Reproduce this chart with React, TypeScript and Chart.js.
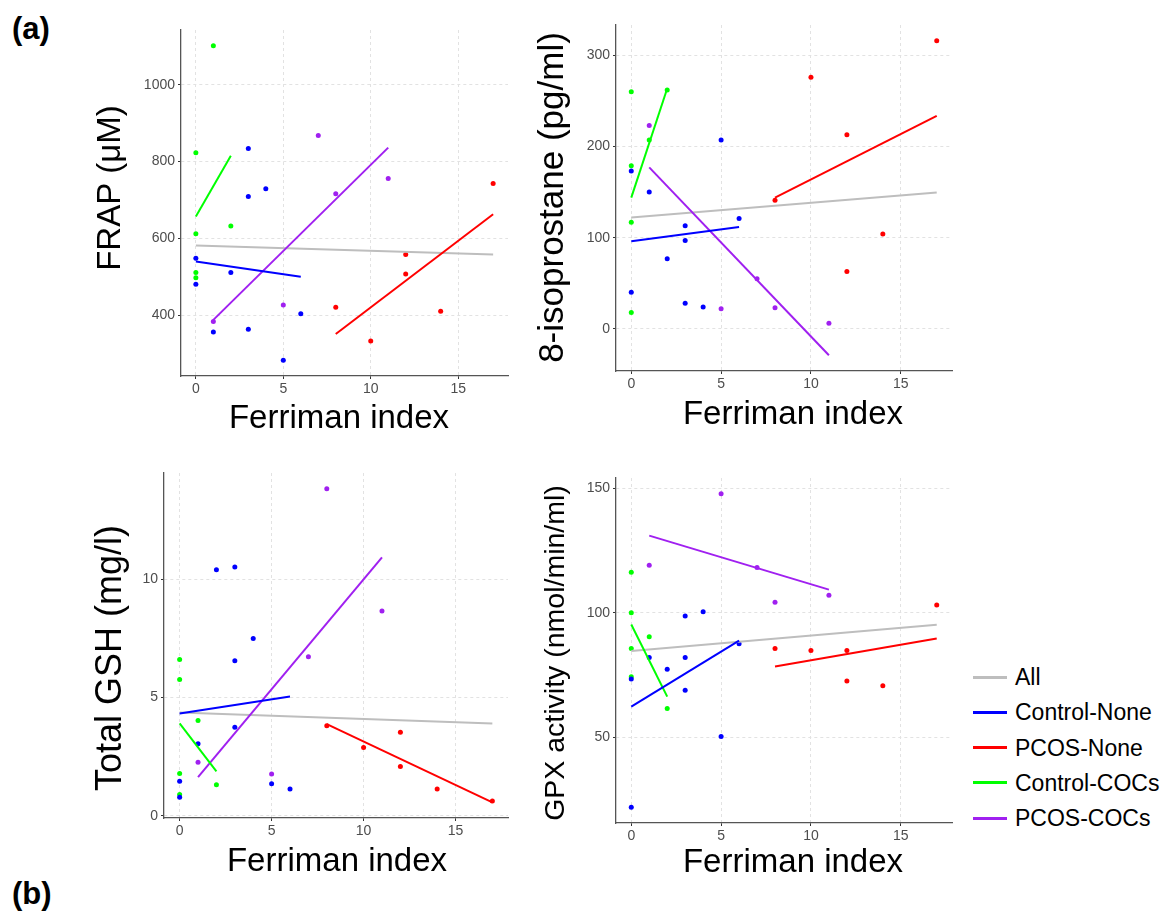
import React, { useEffect, useRef } from 'react';
import { Chart, registerables } from 'chart.js';

Chart.register(...registerables);

// ---------- data ----------
const X_TICKS = [0, 5, 10, 15];
const FRAP_TICKS = [400, 600, 800, 1000];
const ISO_TICKS = [0, 100, 200, 300];
const GSH_TICKS = [0, 5, 10];
const GPX_TICKS = [50, 100, 150];

const GROUP_NAMES = ['Control-None', 'PCOS-None', 'Control-COCs', 'PCOS-COCs'];
const GROUP_COLORS = ['#0000FF', '#FF0000', '#00FF00', '#A020F0'];
const ALL_NAME = 'All';
const ALL_COLOR = '#BEBEBE';
const LEGEND_NAMES = [ALL_NAME, ...GROUP_NAMES];
const LEGEND_COLORS = [ALL_COLOR, ...GROUP_COLORS];

// [Ferriman index, value]
const FRAP_CONTROL_NONE = [[0, 548], [0, 480], [1, 356], [2, 511], [3, 834], [3, 709], [3, 363], [4, 729], [5, 282], [6, 403]];
const FRAP_PCOS_NONE = [[8, 420], [10, 332], [12, 558], [12, 507], [14, 410], [17, 743]];
const FRAP_CONTROL_COCS = [[0, 823], [0, 612], [0, 511], [0, 497], [1, 1102], [2, 632]];
const FRAP_PCOS_COCS = [[1, 383], [5, 426], [7, 868], [8, 716], [11, 756]];

const ISO_CONTROL_NONE = [[0, 173], [0, 40], [1, 150], [2, 77], [3, 113], [3, 97], [3, 28], [4, 24], [5, 207], [6, 121]];
const ISO_PCOS_NONE = [[8, 141], [10, 276], [12, 213], [12, 63], [14, 104], [17, 316]];
const ISO_CONTROL_COCS = [[0, 260], [0, 179], [0, 117], [0, 18], [1, 207], [2, 262]];
const ISO_PCOS_COCS = [[1, 223], [5, 22], [7, 55], [8, 23], [11, 6]];

const GSH_CONTROL_NONE = [[0, 1.46], [0, 0.79], [1, 3.05], [2, 10.4], [3, 10.52], [3, 6.56], [3, 3.75], [4, 7.5], [5, 1.36], [6, 1.14]];
const GSH_PCOS_NONE = [[8, 3.81], [10, 2.89], [12, 3.54], [12, 2.09], [14, 1.14], [17, 0.63]];
const GSH_CONTROL_COCS = [[0, 6.61], [0, 5.77], [0, 1.79], [0, 0.9], [1, 4.03], [2, 1.32]];
const GSH_PCOS_COCS = [[1, 2.27], [5, 1.77], [7, 6.73], [8, 13.83], [11, 8.66]];

const GPX_CONTROL_NONE = [[0, 73.4], [0, 21.8], [1, 82], [2, 77.3], [3, 98.7], [3, 82], [3, 68.9], [4, 100.4], [5, 50.3], [6, 87.6]];
const GPX_PCOS_NONE = [[8, 85.7], [10, 84.8], [12, 84.8], [12, 72.6], [14, 70.7], [17, 103.1]];
const GPX_CONTROL_COCS = [[0, 116.3], [0, 100], [0, 85.7], [0, 74.3], [1, 90.4], [2, 61.5]];
const GPX_PCOS_COCS = [[1, 119.1], [5, 147.9], [7, 118.2], [8, 104.2], [11, 107.1]];

// ---------- layout ----------
const FONT = '"Liberation Sans", Arial, Helvetica, sans-serif';
const X_TITLE = 'Ferriman index';
const X_TITLE_SIZE = 33;

type Panel = {
  yTitle: string;
  yTitleSize: number;
  yTicks: number[];
  groups: number[][][];
  plot: { L: number; T: number; R: number; B: number };
  canvas: { left: number; top: number; right: number; bottom: number };
  yTitlePos: [number, number];
  xTitlePos: [number, number];
};

const PANELS: Panel[] = [
  {
    yTitle: 'FRAP (μM)', yTitleSize: 33, yTicks: FRAP_TICKS,
    groups: [FRAP_CONTROL_NONE, FRAP_PCOS_NONE, FRAP_CONTROL_COCS, FRAP_PCOS_COCS],
    plot: { L: 181, T: 30, R: 508, B: 376 },
    canvas: { left: 80, top: 10, right: 525, bottom: 445 },
    yTitlePos: [111, 188], xTitlePos: [339, 419],
  },
  {
    yTitle: '8-isoprostane (pg/ml)', yTitleSize: 35, yTicks: ISO_TICKS,
    groups: [ISO_CONTROL_NONE, ISO_PCOS_NONE, ISO_CONTROL_COCS, ISO_PCOS_COCS],
    plot: { L: 616, T: 25, R: 952, B: 371 },
    canvas: { left: 528, top: 5, right: 965, bottom: 440 },
    yTitlePos: [553, 197.5], xTitlePos: [793, 415],
  },
  {
    yTitle: 'Total GSH (mg/l)', yTitleSize: 36, yTicks: GSH_TICKS,
    groups: [GSH_CONTROL_NONE, GSH_PCOS_NONE, GSH_CONTROL_COCS, GSH_PCOS_COCS],
    plot: { L: 164, T: 473, R: 508, B: 818 },
    canvas: { left: 80, top: 455, right: 525, bottom: 890 },
    yTitlePos: [111.5, 658], xTitlePos: [337, 862],
  },
  {
    yTitle: 'GPX activity (nmol/min/ml)', yTitleSize: 28.5, yTicks: GPX_TICKS,
    groups: [GPX_CONTROL_NONE, GPX_PCOS_NONE, GPX_CONTROL_COCS, GPX_PCOS_COCS],
    plot: { L: 616, T: 478, R: 952, B: 823 },
    canvas: { left: 528, top: 458, right: 965, bottom: 892 },
    yTitlePos: [556, 653], xTitlePos: [793, 863],
  },
];

function fit(points: number[][]) {
  const n = points.length;
  const mx = points.reduce((s, p) => s + p[0], 0) / n;
  const my = points.reduce((s, p) => s + p[1], 0) / n;
  let sxx = 0, sxy = 0;
  points.forEach((p) => { sxx += (p[0] - mx) ** 2; sxy += (p[0] - mx) * (p[1] - my); });
  const slope = sxy / sxx;
  const xs = points.map((p) => p[0]);
  const x0 = Math.min(...xs), x1 = Math.max(...xs);
  return [
    { x: x0, y: my + slope * (x0 - mx) },
    { x: x1, y: my + slope * (x1 - mx) },
  ];
}

function expand(lo: number, hi: number) {
  const d = (hi - lo) * 0.05;
  return [lo - d, hi + d];
}

const titlePlugin = {
  id: 'panelTitles',
  afterDraw(chart: any, _args: any, opts: any) {
    const ctx = chart.ctx;
    ctx.save();
    ctx.fillStyle = '#000000';
    ctx.textAlign = 'center';
    ctx.textBaseline = 'middle';
    ctx.font = `${opts.xSize}px ${FONT}`;
    ctx.fillText(opts.xText, opts.xPos[0], opts.xPos[1]);
    ctx.translate(opts.yPos[0], opts.yPos[1]);
    ctx.rotate(-Math.PI / 2);
    ctx.font = `${opts.ySize}px ${FONT}`;
    ctx.fillText(opts.yText, 0, 0);
    ctx.restore();
  },
};

function PanelChart({ panel }: { panel: Panel }) {
  const ref = useRef<HTMLCanvasElement>(null);
  const { plot, canvas } = panel;
  const width = canvas.right - canvas.left;
  const height = canvas.bottom - canvas.top;
  const padTop = plot.T - canvas.top;
  const padRight = canvas.right - plot.R;
  const yAxisW = plot.L - canvas.left;
  const xAxisH = canvas.bottom - plot.B;

  useEffect(() => {
    const all = panel.groups.flat();
    const groupLines = panel.groups.map(fit);
    const allLine = fit(all);
    const ys = [...all.map((p) => p[1]), ...groupLines.flat().map((p) => p.y), ...allLine.map((p) => p.y)];
    const xs = all.map((p) => p[0]);
    const [ymin, ymax] = expand(Math.min(...ys), Math.max(...ys));
    const [xmin, xmax] = expand(Math.min(...xs), Math.max(...xs));

    const lineSets = groupLines.map((ln, i) => ({
      type: 'line' as const,
      label: GROUP_NAMES[i] + ' fit',
      data: ln,
      borderColor: GROUP_COLORS[i],
      backgroundColor: GROUP_COLORS[i],
      borderWidth: 2,
      pointRadius: 0,
      showLine: true,
      fill: false,
    }));
    const allSet = {
      type: 'line' as const,
      label: ALL_NAME,
      data: allLine,
      borderColor: ALL_COLOR,
      backgroundColor: ALL_COLOR,
      borderWidth: 2,
      pointRadius: 0,
      showLine: true,
      fill: false,
    };
    const pointSets = panel.groups.map((g, i) => ({
      type: 'scatter' as const,
      label: GROUP_NAMES[i],
      data: g.map((p) => ({ x: p[0], y: p[1] })),
      backgroundColor: GROUP_COLORS[i],
      borderColor: GROUP_COLORS[i],
      borderWidth: 0,
      pointRadius: 2.5,
      pointHoverRadius: 2.5,
    }));

    const tickFont = { family: FONT, size: 14 };
    const gridOpts = {
      color: '#e2e2e2',
      lineWidth: 1,
      drawTicks: true,
      tickLength: 3,
      tickColor: '#333333',
      tickWidth: 1,
      tickBorderDash: [],
    };
    const borderOpts = { display: true, color: '#555555', width: 1.3, dash: [3, 3] };

    const chart = new Chart(ref.current!, {
      type: 'scatter',
      data: { datasets: [...lineSets, allSet, ...pointSets] as any },
      plugins: [titlePlugin],
      options: {
        responsive: false,
        animation: false,
        events: [],
        layout: { padding: { top: padTop, right: padRight, left: 0, bottom: 0 } },
        plugins: {
          legend: { display: false },
          tooltip: { enabled: false },
          title: { display: false },
          panelTitles: {
            xText: X_TITLE, xSize: X_TITLE_SIZE,
            xPos: [panel.xTitlePos[0] - canvas.left, panel.xTitlePos[1] - canvas.top],
            yText: panel.yTitle, ySize: panel.yTitleSize,
            yPos: [panel.yTitlePos[0] - canvas.left, panel.yTitlePos[1] - canvas.top],
          },
        },
        scales: {
          x: {
            type: 'linear',
            position: 'bottom',
            min: xmin,
            max: xmax,
            afterBuildTicks: (s: any) => { s.ticks = X_TICKS.map((v) => ({ value: v })); },
            afterFit: (s: any) => { s.height = xAxisH; },
            ticks: { font: tickFont, color: '#4d4d4d', padding: 2, maxRotation: 0, callback: (v: any) => String(v) },
            grid: gridOpts as any,
            border: borderOpts as any,
            title: { display: false },
          },
          y: {
            type: 'linear',
            position: 'left',
            min: ymin,
            max: ymax,
            afterBuildTicks: (s: any) => { s.ticks = panel.yTicks.map((v) => ({ value: v })); },
            afterFit: (s: any) => { s.width = yAxisW; },
            ticks: { font: tickFont, color: '#4d4d4d', padding: 3, callback: (v: any) => String(v) },
            grid: gridOpts as any,
            border: borderOpts as any,
            title: { display: false },
          },
        },
      } as any,
    });
    return () => chart.destroy();
  }, []);

  return (
    <canvas
      ref={ref}
      width={width}
      height={height}
      style={{ position: 'absolute', left: canvas.left, top: canvas.top, width, height }}
    />
  );
}

export default function App() {
  const legendTop = 677;
  const legendStep = 35.3;
  return (
    <div style={{ position: 'fixed', left: 0, top: 0, width: 1168, height: 920, background: '#ffffff', overflow: 'hidden', fontFamily: FONT }}>
      {PANELS.map((p, i) => <PanelChart key={i} panel={p} />)}
      <div style={{ position: 'absolute', left: 12, top: 13, fontSize: 31, lineHeight: '31px', fontWeight: 'bold', color: '#000' }}>(a)</div>
      <div style={{ position: 'absolute', left: 12, top: 878, fontSize: 31, lineHeight: '31px', fontWeight: 'bold', color: '#000' }}>(b)</div>
      {LEGEND_NAMES.map((name, i) => (
        <div key={name} style={{ position: 'absolute', left: 973, top: legendTop + i * legendStep - 15, height: 30, display: 'flex', alignItems: 'center' }}>
          <div style={{ width: 34, height: 3, background: LEGEND_COLORS[i] }} />
          <div style={{ marginLeft: 8, fontSize: 23, lineHeight: '30px', color: '#000', whiteSpace: 'nowrap' }}>{name}</div>
        </div>
      ))}
    </div>
  );
}
